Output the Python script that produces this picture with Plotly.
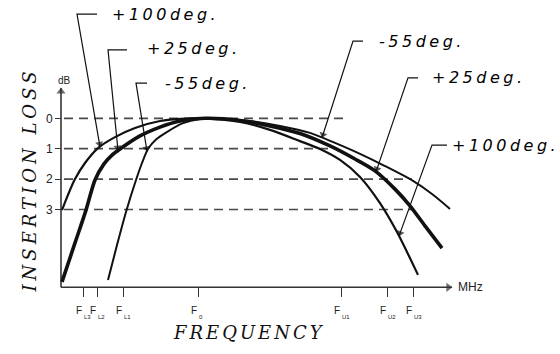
import numpy as np
import plotly.graph_objects as go

# ---------------- data (frequency in arbitrary linear units from origin, loss in dB) ----
freq_ticks = [22, 36, 62, 137, 280, 326, 352]
freq_tick_main = ["F", "F", "F", "F", "F", "F", "F"]
freq_tick_sub = ["L3", "L2", "L1", "0", "U1", "U2", "U3"]
loss_ticks = [0, 1, 2, 3]
loss_tick_labels = ["0", "1", "2", "3"]

# +100 deg.
f_p100 = [1, 7, 14, 24, 37, 54, 74, 99, 124, 139, 179, 209, 239, 259, 279, 299, 319, 336, 357]
il_p100 = [3.02, 2.52, 2.00, 1.47, 0.98, 0.62, 0.32, 0.09, 0.01, 0, 0.12, 0.38, 0.75, 1.01,
           1.37, 1.93, 2.79, 3.74, 5.15]
# +25 deg.
f_p25 = [1, 14, 25, 34, 43, 51, 59, 79, 99, 119, 144, 179, 209, 239, 269, 294, 314, 334, 349,
         364, 381]
il_p25 = [5.38, 4.10, 3.02, 2.03, 1.50, 1.21, 1.01, 0.58, 0.29, 0.09, 0, 0.07, 0.25, 0.50,
          0.91, 1.34, 1.73, 2.33, 2.88, 3.54, 4.27]
# -55 deg.
f_m55 = [47, 56, 65, 75, 81, 87, 95, 105, 122, 139, 154, 189, 219, 249, 274, 299, 324, 352,
         371, 389]
il_m55 = [5.32, 4.17, 3.08, 2.03, 1.47, 1.01, 0.70, 0.47, 0.16, 0.02, 0, 0.09, 0.25, 0.48,
          0.81, 1.17, 1.57, 2.06, 2.49, 2.98]

ref_db = [0, 1, 2, 3]
ref_f_end = [286, 267, 351, 351]

# ---------------- layout constants ----------------
W, H = 560, 354
X0_PX = 61                        # pixel column of the frequency origin
Y0_PX, PX_PER_DB = 118.3, 30.4    # 0 dB line and scale
F_MAX = 391                       # arrow tip of frequency axis
IL_AXIS = 5.56                    # loss value where frequency axis sits
IL_TOP = -1.0                     # arrow tip of loss axis
x_range = [-X0_PX, W - X0_PX]
y_range = [(H - Y0_PX) / PX_PER_DB, -Y0_PX / PX_PER_DB]

INK = "#111111"
LBL_FONT = dict(family="DejaVu Sans", size=16, color="#000000")

curves = {
    "+100": (f_p100, il_p100, 2.2),
    "+25": (f_p25, il_p25, 3.6),
    "-55": (f_m55, il_m55, 2.0),
}

fig = go.Figure()


def arrow_trace(xs, ys, color, width, head=7):
    """Polyline whose last segment ends with a triangular head (marker oriented along it)."""
    x1, y1 = xs[-2], ys[-2]
    x2, y2 = xs[-1], ys[-1]
    dxp, dyp = (x2 - x1), (y2 - y1) * PX_PER_DB
    L = np.hypot(dxp, dyp)
    back = head * 0.45
    bx = x2 - dxp / L * back
    by = y2 - dyp / L * back / PX_PER_DB
    px = list(xs[:-1]) + [bx, x2]
    py = list(ys[:-1]) + [by, y2]
    sizes = [0] * (len(px) - 2) + [head, 0]
    return go.Scatter(x=px, y=py, mode="lines+markers", hoverinfo="skip",
                      line=dict(color=color, width=width),
                      marker=dict(size=sizes, symbol="triangle-up", angleref="previous",
                                  color=color, line=dict(width=0)))


# dashed reference levels
for lv, fe in zip(ref_db, ref_f_end):
    fig.add_trace(go.Scatter(x=[3, fe], y=[lv, lv], mode="lines",
                             line=dict(color="#4a4a4a", width=1.7, dash="9px,6px"),
                             hoverinfo="skip"))

# axes with arrowheads
fig.add_trace(arrow_trace([0, F_MAX], [IL_AXIS, IL_AXIS], "#333333", 1.6, head=8))
fig.add_trace(arrow_trace([0, 0], [IL_AXIS, IL_TOP], "#333333", 1.6, head=8))

# response curves
for name, (fx, fy, lw) in curves.items():
    fig.add_trace(go.Scatter(x=fx, y=fy, mode="lines", name=name,
                             line=dict(color=INK, width=lw, shape="spline", smoothing=0.8)))

# callout labels: (text, curve, text_f, text_il, corner_f, corner_il, hz_end_f, tip_f)
callouts = [
    ("+100deg.", "+100", 49, -3.40, 16, -3.43, 36, 39),
    ("+25deg.", "+25", 84, -2.31, 47, -2.25, 66, 57),
    ("-55deg.", "-55", 102, -1.16, 75, -1.16, 86, 86),
    ("-55deg.", "-55", 316, -2.54, 292, -2.54, 302, 261),
    ("+25deg.", "+25", 369, -1.33, 347, -1.33, 357, 315),
    ("+100deg.", "+100", 389, 0.88, 371, 0.88, 386, 338),
]
for txt, cname, tf, til, cf, cil, hf, tipf in callouts:
    fx, fy, _ = curves[cname]
    tip_il = float(np.interp(tipf, fx, fy))
    fig.add_trace(arrow_trace([hf, cf, tipf], [cil, cil, tip_il], INK, 1.2, head=7))
    fig.add_annotation(x=tf, y=til, xref="x", yref="y", xanchor="left", yanchor="middle",
                       text=f'<i><span style="letter-spacing:3.5px">{txt}</span></i>',
                       showarrow=False, font=LBL_FONT)

# subscripts of the frequency tick labels
for tv, sub in zip(freq_ticks, freq_tick_sub):
    fig.add_annotation(x=tv - 0.5, y=1 - 316.5 / H, xref="x", yref="paper",
                       xanchor="left", yanchor="middle", text=sub, showarrow=False,
                       borderpad=0, font=dict(family="Liberation Sans", size=6,
                                              color="#222222"))

fig.add_annotation(x=3, y=-1.26, xref="x", yref="y", text="dB", showarrow=False,
                   font=dict(family="Liberation Sans", size=10, color="#222222"))
fig.add_annotation(x=F_MAX + 4, y=IL_AXIS, xref="x", yref="y", xanchor="left",
                   text="MHz", showarrow=False,
                   font=dict(family="Liberation Sans", size=12, color="#222222"))

# axis titles
fig.add_annotation(x=249 / W, y=1 - 343.5 / H, xref="paper", yref="paper",
                   text='<i><span style="letter-spacing:3px">FREQUENCY</span></i>',
                   showarrow=False, borderpad=0,
                   font=dict(family="DejaVu Serif", size=18, color=INK))
fig.add_annotation(x=16 / W, y=1 - 180 / H, xref="paper", yref="paper", textangle=-90,
                   text='<i><span style="letter-spacing:4px">INSERTION LOSS</span></i>',
                   showarrow=False,
                   font=dict(family="DejaVu Serif", size=18, color=INK))

fig.update_layout(
    width=W, height=H, margin=dict(l=0, r=0, t=0, b=0),
    paper_bgcolor="white", plot_bgcolor="white", showlegend=False,
    xaxis=dict(domain=[0, 1], range=x_range, anchor="free",
               position=(H - (Y0_PX + IL_AXIS * PX_PER_DB)) / H,
               showline=False, showgrid=False, zeroline=False, tickangle=0,
               ticks="outside", ticklen=9, tickwidth=1.3, tickcolor="#333333",
               tickvals=freq_ticks, ticktext=freq_tick_main,
               ticklabelshift=-4, ticklabelstandoff=5,
               tickfont=dict(family="Liberation Sans", size=10, color="#222222")),
    yaxis=dict(domain=[0, 1], range=y_range, anchor="free", position=X0_PX / W,
               showline=False, showgrid=False, zeroline=False,
               ticks="outside", ticklen=6, tickwidth=1.3, tickcolor="#333333",
               tickvals=loss_ticks, ticktext=loss_tick_labels,
               tickfont=dict(family="Liberation Sans", size=12, color="#222222")),
)

fig.write_html("out.html")
